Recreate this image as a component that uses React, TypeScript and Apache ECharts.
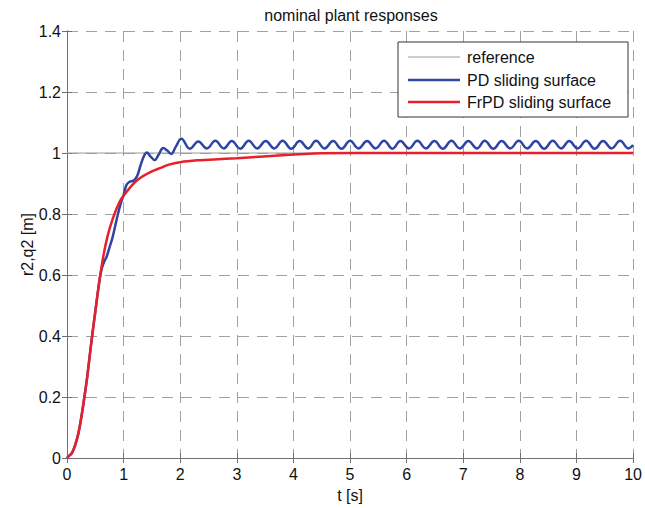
import React, { useEffect, useRef } from "react";
import * as echarts from "echarts";

const xTicks = [0, 10];
const yTicks = [0, 1.4];

const refT = [0, 10];
const refV = [1, 1];

const frT = [0, 0.04, 0.08, 0.14, 0.2, 0.25, 0.3, 0.36, 0.43, 0.5, 0.58, 0.65, 0.72, 0.8, 0.88, 0.96, 1.05, 1.15, 1.25, 1.35, 1.5, 1.65, 1.8, 2.0, 2.3, 2.6, 3.0, 3.4, 3.8, 4.2, 4.5, 5.0, 10.0];
const frV = [0, 0.008, 0.014, 0.04, 0.08, 0.13, 0.19, 0.27, 0.38, 0.48, 0.59, 0.67, 0.73, 0.78, 0.82, 0.85, 0.872, 0.895, 0.912, 0.925, 0.94, 0.951, 0.962, 0.97, 0.976, 0.979, 0.983, 0.988, 0.993, 0.997, 0.999, 1.0, 1.0];

const pdT = [0, 0.04, 0.08, 0.14, 0.2, 0.25, 0.3, 0.36, 0.43, 0.5, 0.58, 0.62, 0.66, 0.7, 0.75, 0.8, 0.85, 0.9, 0.95, 1.0, 1.05, 1.1, 1.18, 1.24, 1.3, 1.36, 1.41, 1.47, 1.55, 1.62, 1.7, 1.77, 1.84, 1.92,
  2.02, 2.17, 2.32, 2.47, 2.62, 2.77, 2.91, 3.06, 3.21, 3.36, 3.51, 3.66, 3.81, 3.96, 4.11, 4.26, 4.4, 4.55, 4.7, 4.85,
  5.0, 5.15, 5.3, 5.45, 5.6, 5.75, 5.89, 6.04, 6.19, 6.34, 6.49, 6.64, 6.79, 6.94, 7.09, 7.24, 7.38, 7.53, 7.68, 7.83,
  7.98, 8.13, 8.28, 8.43, 8.58, 8.73, 8.87, 9.02, 9.17, 9.32, 9.47, 9.62, 9.77, 9.92, 10.0];
const pdV = [0, 0.008, 0.014, 0.04, 0.08, 0.13, 0.19, 0.27, 0.38, 0.48, 0.59, 0.625, 0.645, 0.66, 0.69, 0.72, 0.76, 0.8, 0.835, 0.862, 0.895, 0.905, 0.91, 0.925, 0.96, 0.99, 1.002, 0.99, 0.977, 0.995, 1.016, 1.008, 0.997, 1.02,
  1.047, 1.014, 1.038, 1.015, 1.04, 1.015, 1.039, 1.014, 1.04, 1.015, 1.039, 1.015, 1.04, 1.014, 1.039, 1.015, 1.04, 1.015, 1.039, 1.014,
  1.04, 1.015, 1.039, 1.015, 1.04, 1.014, 1.039, 1.015, 1.04, 1.015, 1.039, 1.014, 1.04, 1.015, 1.039, 1.015, 1.04, 1.014, 1.039, 1.015,
  1.04, 1.015, 1.039, 1.014, 1.04, 1.015, 1.039, 1.015, 1.04, 1.014, 1.039, 1.015, 1.04, 1.015, 1.026];

const legendNames = ["reference", "PD sliding surface", "FrPD sliding surface"];
const colors = ["#9a9a9a", "#2f45a3", "#e8202a"];

const zip = (t: number[], v: number[]) => t.map((x, i) => [x, v[i]]);

const FONT = "'Liberation Sans', Arial, sans-serif";

export default function App() {
  const ref = useRef<HTMLDivElement>(null);
  useEffect(() => {
    if (!ref.current) return;
    const chart = echarts.init(ref.current, null, { renderer: "svg" });
    const axisColor = "#707070";
    const gridLine = { show: true, lineStyle: { type: [11, 8] as any, color: "#a0a0a0", width: 1 } };
    const xBase = {
      type: "value" as const,
      min: xTicks[0],
      max: xTicks[1],
      interval: 1,
      axisLine: { show: true, lineStyle: { color: axisColor, width: 1 } },
      axisTick: { show: true, inside: true, length: 5, lineStyle: { color: axisColor } },
    };
    const yBase = {
      type: "value" as const,
      min: yTicks[0],
      max: yTicks[1],
      interval: 0.2,
      axisLine: { show: true, lineStyle: { color: axisColor, width: 1 } },
      axisTick: { show: true, inside: true, length: 5, lineStyle: { color: axisColor } },
    };
    const legendRows = [57, 80, 102];
    const legendGraphics: any[] = [
      {
        type: "rect",
        z: 100,
        shape: { x: 398, y: 42, width: 230, height: 75 },
        style: { fill: "#fff", stroke: "#333", lineWidth: 1 },
      },
    ];
    legendNames.forEach((n, i) => {
      legendGraphics.push({
        type: "line",
        z: 101,
        shape: { x1: 408, y1: legendRows[i], x2: 460, y2: legendRows[i] },
        style: { stroke: colors[i], lineWidth: i === 0 ? 1 : 2.5 },
      });
      legendGraphics.push({
        type: "text",
        z: 101,
        x: 467,
        y: legendRows[i],
        style: { text: n, fill: "#111", font: `16px ${FONT}`, verticalAlign: "middle", align: "left" },
      });
    });
    chart.setOption({
      animation: false,
      textStyle: { fontFamily: FONT },
      grid: { left: 67, right: 10, top: 31, bottom: 48 },
      graphic: [
        {
          type: "text",
          x: 351,
          y: 15,
          style: { text: "nominal plant responses", fill: "#111", font: `16px ${FONT}`, align: "center", verticalAlign: "middle" },
        },
        ...legendGraphics,
      ],
      xAxis: [
        {
          ...xBase,
          position: "bottom",
          splitLine: gridLine,
          axisLabel: { fontSize: 16, color: "#111", margin: 8, fontFamily: FONT },
          name: "t [s]",
          nameLocation: "middle",
          nameGap: 29,
          nameMoveOverlap: false,
          nameTextStyle: { fontSize: 16, color: "#111", fontFamily: FONT },
        },
        { ...xBase, position: "top", splitLine: { show: false }, axisLabel: { show: false } },
      ],
      yAxis: [
        {
          ...yBase,
          position: "left",
          splitLine: gridLine,
          axisLabel: {
            fontSize: 16,
            color: "#111",
            margin: 6,
            fontFamily: FONT,
            formatter: (v: number) => String(+v.toFixed(1)),
          },
          name: "r2,q2 [m]",
          nameLocation: "middle",
          nameGap: 32,
          nameMoveOverlap: false,
          nameTextStyle: { fontSize: 16, color: "#111", fontFamily: FONT },
        },
        { ...yBase, position: "right", splitLine: { show: false }, axisLabel: { show: false } },
      ],
      series: [
        {
          name: legendNames[0],
          type: "line",
          data: zip(refT, refV),
          showSymbol: false,
          lineStyle: { color: colors[0], width: 1 },
          itemStyle: { color: colors[0] },
        },
        {
          name: legendNames[1],
          type: "line",
          data: zip(pdT, pdV),
          showSymbol: false,
          smooth: 0.4,
          lineStyle: { color: colors[1], width: 2.5 },
          itemStyle: { color: colors[1] },
        },
        {
          name: legendNames[2],
          type: "line",
          data: zip(frT, frV),
          showSymbol: false,
          smooth: 0.3,
          lineStyle: { color: colors[2], width: 2.5 },
          itemStyle: { color: colors[2] },
        },
      ],
    });
    return () => chart.dispose();
  }, []);
  return <div ref={ref} style={{ width: 645, height: 508, position: "absolute", left: 0, top: 0, background: "#fff" }} />;
}
